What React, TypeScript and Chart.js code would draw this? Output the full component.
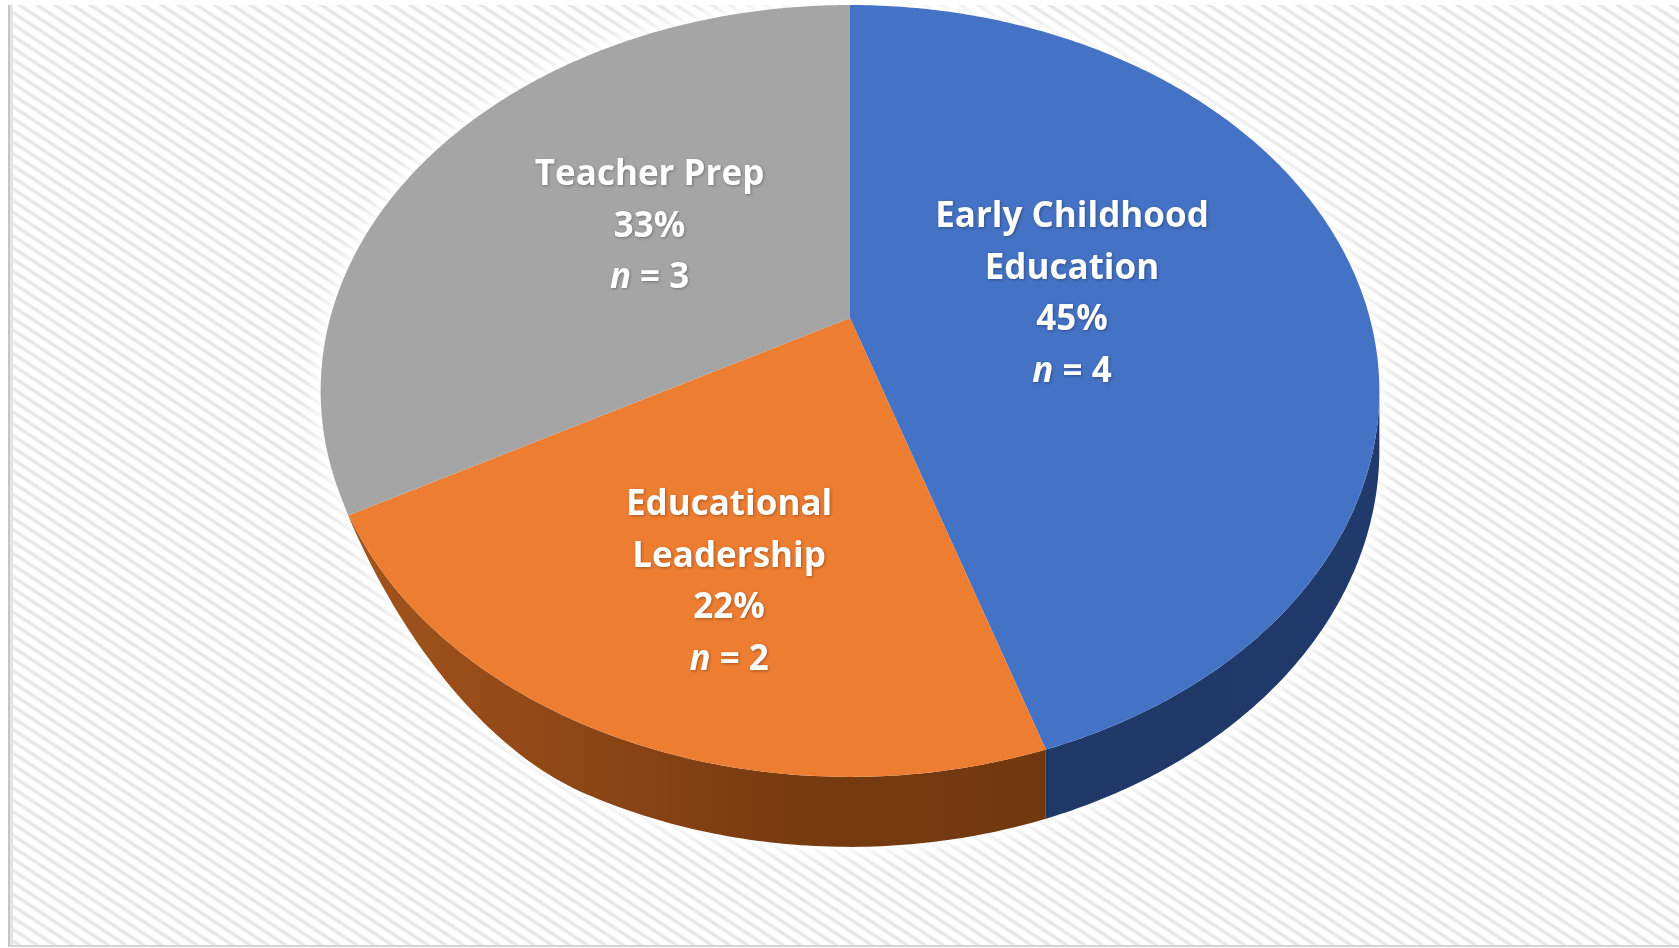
import React, { useEffect, useRef } from "react";
import { Chart, registerables } from "chart.js";

Chart.register(...registerables);

// ---- data ----
const categories = ["Early Childhood Education", "Educational Leadership", "Teacher Prep"];
const categoryLines = [["Early Childhood", "Education"], ["Educational", "Leadership"], ["Teacher Prep"]];
const percentages = [45, 22, 33];
const counts = [4, 2, 3];
const topColors = ["#4472C4", "#ED7D31", "#A5A5A5"];

function geometry(chart: any, opts: any) {
  const arcs = chart.getDatasetMeta(0).data as any[];
  const cx = arcs[0].x;
  const cy = arcs[0].y;
  const k = opts.perspective;
  const B = arcs[0].outerRadius * (1 + k);
  const A = B * opts.aspect;
  const proj = (theta: number, r = 1, dy = 0): [number, number] => {
    const u = r * Math.sin(theta);
    const v = -r * Math.cos(theta);
    const w = 1 - k * v;
    return [cx + (A * u) / w, cy + (B * v + dy) / w];
  };
  return { arcs, cx, cy, k, A, B, proj };
}

const pie3d = {
  id: "pie3d",
  beforeDatasetsDraw(chart: any, _args: any, opts: any) {
    const ctx = chart.ctx as CanvasRenderingContext2D;
    if (!chart.getDatasetMeta(0).data.length) return false;
    const { arcs, cx, cy, k, proj } = geometry(chart, opts);
    const toTheta = (a: number) => a + Math.PI / 2;
    const d0 = opts.depth * (1 - k);
    const deg = Math.PI / 180;
    const depthAt = (t: number) => {
      if (t <= Math.PI) return d0;
      const f = Math.min(1, Math.max(0, (opts.taperStart * deg - t) / ((opts.taperStart - opts.taperEnd) * deg)));
      return d0 * f * f * (3 - 2 * f);
    };
    const tR = Math.acos(-k);
    const tL = 2 * Math.PI - Math.acos(-k);

    const wallPath = (a: number, b: number) => {
      const n = 120;
      ctx.beginPath();
      for (let i = 0; i <= n; i++) {
        const t = a + ((b - a) * i) / n;
        const [x, y] = proj(t);
        i === 0 ? ctx.moveTo(x, y) : ctx.lineTo(x, y);
      }
      for (let i = n; i >= 0; i--) {
        const t = a + ((b - a) * i) / n;
        const [x, y] = proj(t, 1, depthAt(t));
        ctx.lineTo(x, y);
      }
      ctx.closePath();
    };
    const facePath = (a: number, b: number) => {
      const n = 240;
      ctx.beginPath();
      ctx.moveTo(cx, cy);
      for (let i = 0; i <= n; i++) {
        const t = a + ((b - a) * i) / n;
        const [x, y] = proj(t);
        ctx.lineTo(x, y);
      }
      ctx.closePath();
    };

    ctx.save();
    // soft white glow around the pie
    ctx.shadowColor = "rgba(255,255,255,1)";
    ctx.shadowBlur = 22;
    ctx.fillStyle = "#ffffff";
    for (let pass = 0; pass < 2; pass++) {
      facePath(0, 2 * Math.PI);
      ctx.fill();
      wallPath(tR, tL);
      ctx.fill();
    }
    ctx.shadowBlur = 0;
    ctx.shadowColor = "transparent";

    // walls
    arcs.forEach((arc, i) => {
      const a = Math.max(toTheta(arc.startAngle), tR);
      const b = Math.min(toTheta(arc.endAngle), tL);
      if (b <= a) return;
      wallPath(a, b);
      const [xl] = proj(tL);
      const [xr] = proj(tR);
      const g = ctx.createLinearGradient(xl, 0, xr, 0);
      opts.sideStops[i].forEach((s: [number, string]) => g.addColorStop(s[0], s[1]));
      ctx.fillStyle = g;
      ctx.fill();
    });

    // top faces
    arcs.forEach((arc) => {
      facePath(toTheta(arc.startAngle), toTheta(arc.endAngle));
      ctx.fillStyle = arc.options.backgroundColor;
      ctx.fill();
    });
    ctx.restore();
    return false;
  },
  afterDraw(chart: any, _args: any, opts: any) {
    const ctx = chart.ctx as CanvasRenderingContext2D;
    if (!chart.getDatasetMeta(0).data.length) return;
    const { arcs, proj } = geometry(chart, opts);
    const lh = opts.lineHeight;
    const fs = opts.fontSize;
    const fam = opts.fontFamily;
    ctx.save();
    ctx.fillStyle = "#ffffff";
    ctx.textBaseline = "middle";
    ctx.shadowColor = "rgba(0,0,0,0.3)";
    ctx.shadowBlur = 3;
    ctx.shadowOffsetX = 1;
    ctx.shadowOffsetY = 1;
    arcs.forEach((arc, i) => {
      const mid = (arc.startAngle + arc.endAngle) / 2 + Math.PI / 2;
      const [px, py] = proj(mid, opts.labelRadius);
      const lx = px + opts.nudges[i][0];
      const ly = py + opts.nudges[i][1];
      const lines = [...categoryLines[i], `${percentages[i]}%`];
      const total = lines.length + 1;
      let y = ly - ((total - 1) * lh) / 2;
      const normal = `700 ${fs}px ${fam}`;
      const italic = `italic 700 ${fs}px ${fam}`;
      ctx.textAlign = "center";
      ctx.font = normal;
      lines.forEach((line) => {
        ctx.fillText(line, lx, y);
        y += lh;
      });
      ctx.font = italic;
      const wn = ctx.measureText("n").width;
      ctx.font = normal;
      const rest = ` = ${counts[i]}`;
      const wr = ctx.measureText(rest).width;
      const x0 = lx - (wn + wr) / 2;
      ctx.textAlign = "left";
      ctx.font = italic;
      ctx.fillText("n", x0, y);
      ctx.font = normal;
      ctx.fillText(rest, x0 + wn, y);
    });
    ctx.restore();
  },
};

export default function App() {
  const ref = useRef<HTMLCanvasElement | null>(null);
  useEffect(() => {
    document.body.style.margin = "0";
    const canvas = ref.current;
    if (!canvas) return;
    const chart = new Chart(canvas, {
      type: "pie",
      data: {
        labels: categories,
        datasets: [{ data: percentages, backgroundColor: topColors, borderWidth: 0 }],
      },
      options: {
        responsive: false,
        animation: false,
        events: [],
        layout: { padding: { left: 321, right: 300, top: 5, bottom: 317 } },
        plugins: {
          legend: { display: false },
          tooltip: { enabled: false },
          pie3d: {
            aspect: 519.6 / 372,
            perspective: 0.189,
            depth: 70,
            taperStart: 245,
            taperEnd: 205,
            labelRadius: 0.5,
            nudges: [[-31, 5], [-16, 75], [13, -1]],
            lineHeight: 51.5,
            fontSize: 35,
            fontFamily: "'Open Sans', 'Noto Sans', sans-serif",
            sideStops: [
              [[0, "#1d3461"], [1, "#203a6b"]],
              [[0, "#a5561d"], [0.2, "#924918"], [0.45, "#773b10"], [1, "#6a3410"]],
              [[0, "#7a7a7a"], [1, "#6a6a6a"]],
            ],
          },
        } as any,
      },
      plugins: [pie3d as any],
    });
    return () => chart.destroy();
  }, []);

  return (
    <div style={{ position: "fixed", left: 0, top: 0, width: 1679, height: 948, background: "#ffffff", overflow: "hidden" }}>
      <div
        style={{
          position: "absolute",
          left: 8,
          top: 5,
          width: 1671,
          height: 942,
          boxSizing: "border-box",
          borderLeft: "2px solid #c6c6c6",
          borderBottom: "2px solid #d4d4d4",
          boxShadow: "inset 3px 0 0 #e4e4e4",
          background:
            "repeating-linear-gradient(33.5deg, #ffffff 0px, #ffffff 2px, #e2e2e2 5px, #ffffff 8px, #ffffff 9.8px)",
        }}
      />
      <canvas ref={ref} width={1679} height={948} style={{ position: "absolute", left: 0, top: 0 }} />
    </div>
  );
}
